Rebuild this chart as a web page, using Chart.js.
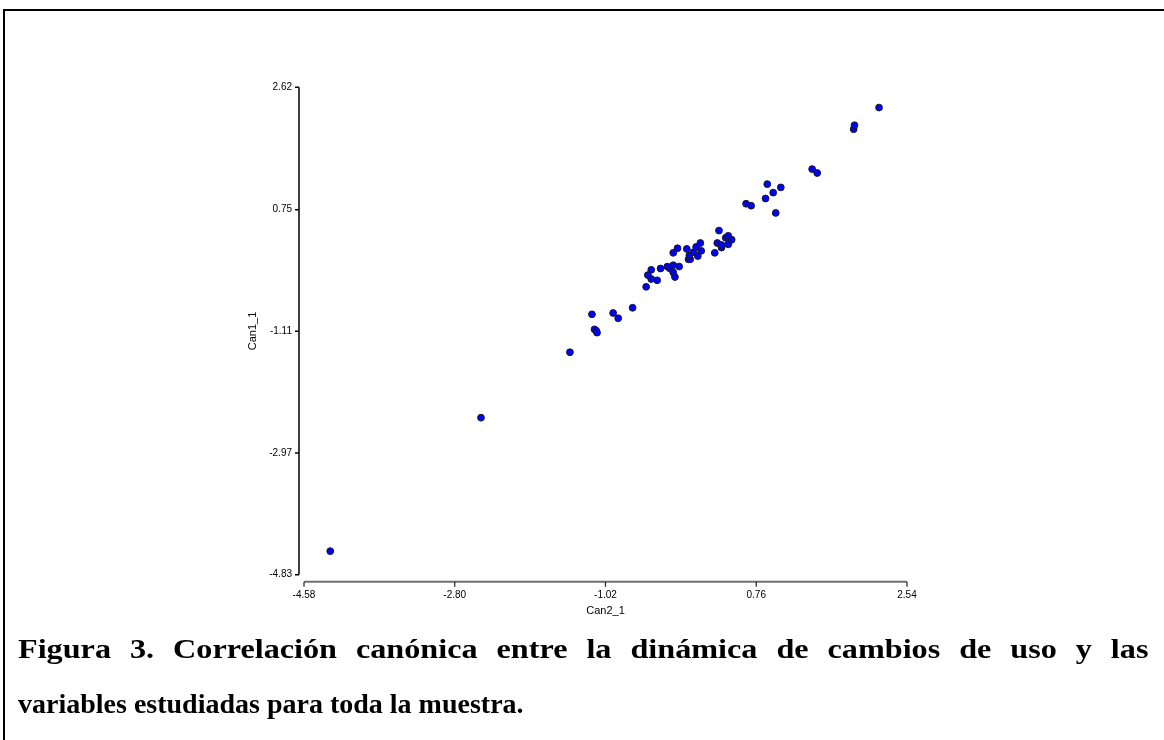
<!DOCTYPE html>
<html>
<head>
<meta charset="utf-8">
<script src="https://cdn.jsdelivr.net/npm/chart.js@4.4.1/dist/chart.umd.min.js"></script>
<style>
  html, body { margin: 0; padding: 0; background: #fff; }
  body { width: 1164px; height: 740px; position: relative; overflow: hidden; }
  #frame { position: absolute; left: 3px; top: 9px; width: 1200px; height: 760px; border-left: 2px solid #000; border-top: 2px solid #000; }
  #chart { position: absolute; left: 0; top: 0; }
  #caption { position: absolute; left: 18px; top: 621px; width: 1130px; font-family: "Liberation Serif", serif; font-weight: bold; font-size: 28px; line-height: 55px; color: #000; white-space: nowrap; }
  #caption .l1 { width: 983px; text-align: justify; text-align-last: justify; white-space: normal; transform: scaleX(1.15); transform-origin: 0 0; }
</style>
</head>
<body>
<div id="frame"></div>
<canvas id="chart" width="1164" height="630"></canvas>
<div id="caption">
  <div class="l1">Figura 3. Correlación canónica entre la dinámica de cambios de uso y las</div>
  <div>variables estudiadas para toda la muestra.</div>
</div>
<script>
// axis ticks as printed on the figure
const xTicks = [-4.58, -2.80, -1.02, 0.76, 2.54];
const yTicks = [-4.83, -2.97, -1.11, 0.75, 2.62];

// Can2_1 (x) and Can1_1 (y) scores
const can2 = [-4.27, -2.49, -1.44, -1.18, -1.15, -1.13, -1.12, -0.93, -0.87, -0.70,
              -0.54, -0.52, -0.48, -0.48, -0.41, -0.37, -0.29, -0.26, -0.22, -0.22,
              -0.20, -0.22, -0.17, -0.15, -0.06, -0.04, -0.02, -0.03, 0.02, 0.05,
              0.07, 0.10, 0.11, 0.27, 0.30, 0.32, 0.35, 0.35, 0.40, 0.43,
              0.43, 0.47, 0.64, 0.70, 0.87, 0.89, 0.96, 0.99, 1.05, 1.42,
              1.48, 1.91, 1.92, 2.21];
const can1 = [-4.47, -2.43, -1.43, -0.85, -1.08, -1.10, -1.13, -0.83, -0.91, -0.75,
              -0.43, -0.25, -0.17, -0.31, -0.33, -0.15, -0.12, -0.15, -0.10, -0.21,
              -0.28, 0.09, 0.16, -0.12, 0.15, -0.01, -0.01, 0.05, 0.10, 0.18,
              0.04, 0.24, 0.12, 0.09, 0.24, 0.43, 0.17, 0.21, 0.32, 0.35,
              0.22, 0.29, 0.84, 0.81, 0.92, 1.14, 1.01, 0.70, 1.09, 1.37,
              1.31, 1.98, 2.04, 2.31];

const points = can2.map((x, i) => ({ x: x, y: can1[i] }));

// detached axes like the original stats package draws them
const axisLines = {
    id: 'axisLines',
    afterDraw(chart) {
        const { ctx, chartArea, scales } = chart;
        const ax = chartArea.left - 5;
        const ay = chartArea.bottom + 7;
        ctx.save();
        ctx.strokeStyle = '#000';
        ctx.lineWidth = 1.5;
        ctx.beginPath();
        ctx.moveTo(ax, scales.y.getPixelForValue(yTicks[yTicks.length - 1]));
        ctx.lineTo(ax, scales.y.getPixelForValue(yTicks[0]));
        yTicks.forEach(v => {
            const py = scales.y.getPixelForValue(v);
            ctx.moveTo(ax, py);
            ctx.lineTo(ax - 4, py);
        });
        ctx.stroke();

        ctx.strokeStyle = '#6e6e6e';
        ctx.lineWidth = 2;
        ctx.beginPath();
        ctx.moveTo(scales.x.getPixelForValue(xTicks[0]), ay);
        ctx.lineTo(scales.x.getPixelForValue(xTicks[xTicks.length - 1]), ay);
        ctx.stroke();
        ctx.strokeStyle = '#222';
        ctx.lineWidth = 1.2;
        ctx.beginPath();
        xTicks.forEach(v => {
            const px = scales.x.getPixelForValue(v);
            ctx.moveTo(px, ay);
            ctx.lineTo(px, ay + 5);
        });
        ctx.stroke();
        ctx.restore();
    }
};

const tickFont = { family: 'Liberation Sans', size: 10 };
const titleFont = { family: 'Liberation Sans', size: 11 };

new Chart(document.getElementById('chart').getContext('2d'), {
    type: 'scatter',
    data: {
        datasets: [{
            data: points,
            pointRadius: 3.4,
            pointHoverRadius: 3.4,
            backgroundColor: '#0000ff',
            borderColor: '#1a1a1a',
            borderWidth: 1,
            clip: false
        }]
    },
    options: {
        responsive: false,
        animation: false,
        layout: { padding: { left: 224, top: 87.3, right: 257, bottom: 10.3 } },
        scales: {
            x: {
                type: 'linear',
                min: xTicks[0],
                max: xTicks[xTicks.length - 1],
                afterBuildTicks: s => { s.ticks = xTicks.map(v => ({ value: v })); },
                afterFit: s => { s.height = 45; },
                grid: { display: false, drawTicks: false },
                border: { display: false },
                ticks: {
                    font: tickFont,
                    color: '#000',
                    padding: 15,
                    maxRotation: 0,
                    autoSkip: false,
                    callback: v => v.toFixed(2)
                },
                title: { display: true, text: 'Can2_1', font: titleFont, color: '#000', padding: { top: 0, bottom: 2 } }
            },
            y: {
                type: 'linear',
                min: yTicks[0],
                max: yTicks[yTicks.length - 1],
                afterBuildTicks: s => { s.ticks = yTicks.map(v => ({ value: v })); },
                afterFit: s => { s.width = 80; },
                grid: { display: false, drawTicks: false },
                border: { display: false },
                ticks: {
                    font: tickFont,
                    color: '#000',
                    padding: 12,
                    autoSkip: false,
                    callback: v => v.toFixed(2)
                },
                title: { display: true, text: 'Can1_1', font: titleFont, color: '#000', padding: { top: 22, bottom: 0 } }
            }
        },
        plugins: {
            legend: { display: false },
            tooltip: { enabled: false }
        }
    },
    plugins: [axisLines]
});
</script>
</body>
</html>
